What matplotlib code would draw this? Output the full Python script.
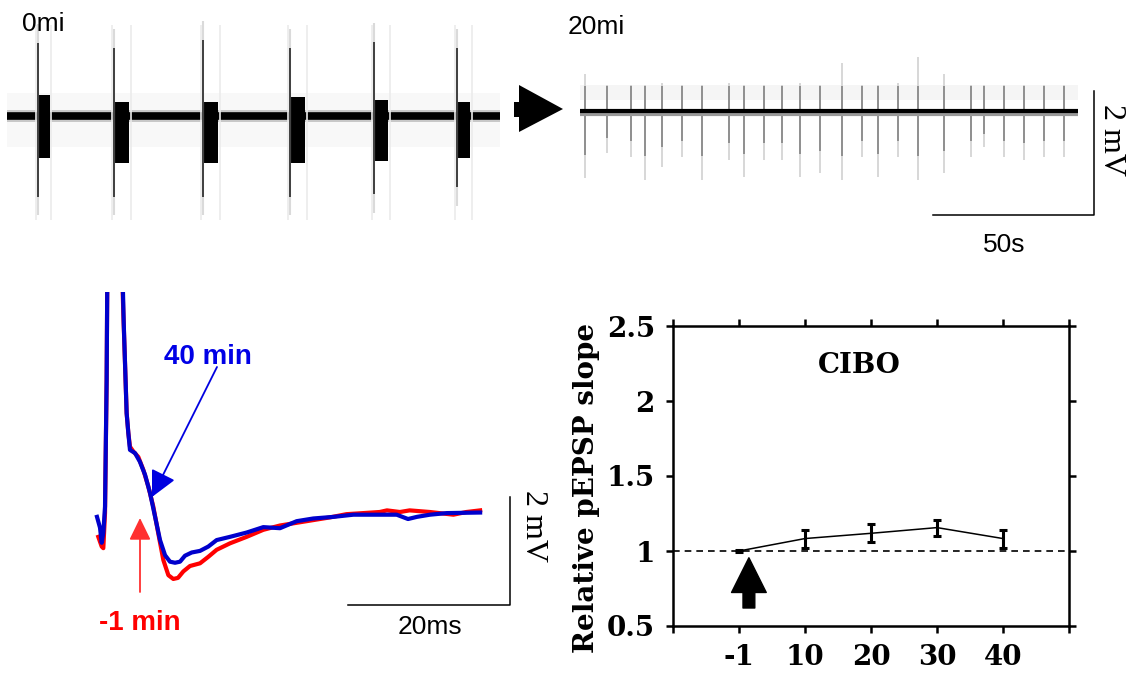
import matplotlib
matplotlib.use('Agg')
import matplotlib.pyplot as plt
from matplotlib.patches import Polygon

W, H = 1127, 675

# ===== DANE: gorny lewy slad (0 min), bursty [s, mV] =====
trace0_len = 153.0
burst_start = [9.6, 33.2, 60.9, 87.9, 114.0, 139.8]
burst_dur = [3.7, 4.7, 4.7, 4.7, 4.3, 4.0]
burst_top = [0.34, 0.23, 0.23, 0.31, 0.26, 0.23]
burst_bottom = [-0.68, -0.76, -0.76, -0.76, -0.73, -0.68]
burst_spike_up = [1.18, 1.10, 1.23, 1.10, 1.20, 1.10]
burst_spike_down = [-1.30, -1.30, -1.30, -1.30, -1.26, -1.15]

# ===== DANE: gorny prawy slad (20 min), pojedyncze spike'i [s, mV] =====
trace20_len = 154.7
spike_t = [1.6, 8.4, 15.8, 20.2, 25.5, 31.7, 37.9, 46.3, 50.9, 57.1, 62.7, 68.3, 74.5,
           81.4, 87.6, 92.5, 98.8, 105.0, 113.0, 121.4, 125.5, 131.7, 137.9, 144.1, 150.3]
spike_up = [0.60, 0.42, 0.42, 0.42, 0.45, 0.42, 0.42, 0.45, 0.42, 0.42, 0.42, 0.45, 0.42,
            0.77, 0.42, 0.42, 0.45, 0.87, 0.60, 0.42, 0.42, 0.42, 0.42, 0.42, 0.42]
spike_down = [-1.08, -0.68, -0.74, -1.11, -0.90, -0.74, -1.11, -0.79, -1.06, -0.79, -0.79, -1.06, -1.00,
              -1.11, -0.74, -1.06, -0.74, -1.11, -1.00, -0.74, -0.58, -0.74, -0.79, -0.74, -0.74]

# ===== DANE: fEPSP [ms, mV] =====
red_t = [0.16, 0.58, 0.78, 0.99, 1.19, 1.27, 1.5, 2.9, 3.13, 3.25, 3.46, 3.66, 3.87, 4.07, 4.49,
         5.1, 5.72, 6.34, 6.95, 7.57, 8.19, 8.81, 9.42, 10.0, 10.66, 11.48, 12.72, 13.74, 14.77,
         16.42, 18.48, 20.53, 22.59, 24.65, 26.7, 28.76, 30.8, 32.9, 34.9, 35.8, 37.4, 38.6,
         41.1, 44.0, 45.6, 47.3]
red_v = [-0.46, -0.64, -0.67, -0.02, 2.44, 4.3, 6.0, 6.0, 4.3, 3.68, 2.75, 1.83, 1.46, 1.21, 1.12,
         1.02, 0.78, 0.47, 0.10, -0.40, -0.89, -1.17, -1.24, -1.22, -1.10, -1.0, -0.95, -0.83, -0.70,
         -0.58, -0.46, -0.33, -0.25, -0.20, -0.15, -0.10, -0.04, -0.02, 0.0, 0.03, 0.0, 0.03,
         0.0, -0.05, 0.0, 0.03]
blue_t = [0.0, 0.37, 0.58, 0.78, 0.99, 1.19, 1.27, 1.5, 2.9, 3.17, 3.3, 3.46, 3.66, 3.87, 4.07,
          4.7, 5.3, 5.93, 6.55, 7.16, 7.78, 8.4, 9.01, 9.63, 10.25, 10.86, 11.69, 12.72, 13.74,
          14.77, 16.42, 18.48, 20.53, 22.59, 24.65, 26.7, 29.2, 31.65, 34.9, 37.0, 38.4, 39.5,
          41.1, 43.2, 47.3]
blue_v = [-0.09, -0.29, -0.57, -0.39, 0.10, 2.44, 4.3, 6.0, 6.0, 4.3, 3.5, 2.75, 1.83, 1.46, 1.15,
          1.09, 0.93, 0.69, 0.35, -0.08, -0.52, -0.80, -0.92, -0.94, -0.92, -0.81, -0.75, -0.72, -0.64,
          -0.52, -0.46, -0.38, -0.28, -0.30, -0.17, -0.12, -0.09, -0.05, -0.05, -0.05, -0.13, -0.09,
          -0.05, -0.02, -0.01]

# ===== DANE: wzgledne nachylenie pEPSP =====
time_labels = ['-1', '10', '20', '30', '40']
slope_mean = [1.0, 1.083, 1.118, 1.156, 1.083]
slope_err = [0.006, 0.06, 0.06, 0.054, 0.06]

RED = '#ff0000'
BLUE = '#0000cc'
SANS = 'Liberation Sans'
SERIF = 'DejaVu Serif'

fig = plt.figure(figsize=(W / 100, H / 100), dpi=100)


def px_axes(x0, y0, x1, y1):
    ax = fig.add_axes([x0 / W, 1 - y1 / H, (x1 - x0) / W, (y1 - y0) / H])
    ax.axis('off')
    return ax


def px_lims(ax, x0, x1, y0, y1, xorg, xscale, yorg, yscale):
    # przeliczenie pikseli na jednostki danych
    ax.set_xlim((x0 - xorg) / xscale, (x1 - xorg) / xscale)
    ax.set_ylim((yorg - y1) / yscale, (yorg - y0) / yscale)


# ===== GORNY LEWY =====
ax0 = px_axes(0, 0, 515, 235)
px_lims(ax0, 0, 515, 0, 235, 7, 3.22, 116, 62)
ax0.fill_between([0, trace0_len], -0.5, 0.37, color='#f8f8f8', lw=0)
ax0.fill_between([0, trace0_len], -0.1, 0.1, color='#c8c8c8', lw=0)
ax0.plot([0, trace0_len], [0, 0], color='black', lw=5.5, solid_capstyle='butt')
for s, d, top, bot, up, dn in zip(burst_start, burst_dur, burst_top, burst_bottom,
                                  burst_spike_up, burst_spike_down):
    ax0.vlines([s - 0.6, s + d + 0.5], -1.68, 1.47, color='#ebebeb', lw=1.2)
    ax0.vlines(s, dn - 0.3, up + 0.3, color='#dadada', lw=1.5)
    ax0.vlines(s, dn, up, color='#333333', lw=1.3)
    ax0.fill_between([s, s + d], bot, top, color='black', lw=0)

# ===== GORNY PRAWY =====
ax1 = px_axes(560, 0, 1127, 260)
px_lims(ax1, 560, 1127, 0, 260, 580, 3.22, 111, 62)
ax1.fill_between([0, trace20_len], 0.18, 0.42, color='#f5f5f5', lw=0)
ax1.vlines(spike_t, spike_down, spike_up, color='#d4d4d4', lw=1.3)
ax1.vlines(spike_t, [d * 0.65 for d in spike_down], 0.4, color='#8a8a8a', lw=1.3)
ax1.plot([0, trace20_len], [-0.05, -0.05], color='#999999', lw=3, solid_capstyle='butt')
ax1.plot([0, trace20_len], [0, 0], color='black', lw=3, solid_capstyle='butt')
# skala 50 s / 2 mV
sb_x = (1094 - 580) / 3.22
sb_y = (111 - 215) / 62
ax1.plot([sb_x - 50, sb_x, sb_x], [sb_y, sb_y, sb_y + 2], color='black', lw=1.1)

# ===== fEPSP =====
ax2 = px_axes(80, 292, 560, 650)
px_lims(ax2, 80, 560, 292, 650, 97, 8.1, 512, 54)
ax2.plot(red_t, red_v, color=RED, lw=3)
ax2.plot(blue_t, blue_v, color=BLUE, lw=3)
ep_x = (510 - 97) / 8.1
ep_y = (512 - 605) / 54
ax2.plot([ep_x - 20, ep_x, ep_x], [ep_y, ep_y, ep_y + 2], color='black', lw=1.1)

# ===== WYKRES NACHYLENIA =====
ax3 = fig.add_axes([673 / W, 1 - 626 / H, (1069 - 673) / W, (626 - 326) / H])
pos = list(range(len(time_labels)))
ax3.axhline(1.0, color='black', lw=1.2, ls=(0, (4, 3)))
ax3.errorbar(pos, slope_mean, yerr=slope_err, color='black', lw=1.1,
             elinewidth=2.2, capsize=3, capthick=2.2)
ax3.set_xlim(-1, 5)
ax3.set_ylim(0.5, 2.5)
ax3.set_xticks(range(-1, 6))
ax3.set_xticklabels([''] + time_labels + [''])
ax3.set_yticks([0.5, 1, 1.5, 2, 2.5])
ax3.set_yticklabels(['0.5', '1', '1.5', '2', '2.5'])
for sp in ax3.spines.values():
    sp.set_linewidth(1.8)
ax3.tick_params(direction='out', length=5, width=1.8, top=True, right=True, pad=8)
for lab in ax3.get_xticklabels() + ax3.get_yticklabels():
    lab.set_fontfamily(SERIF)
    lab.set_fontweight('bold')
    lab.set_fontsize(20)
ax3.text(0.47, 0.87, 'CIBO', transform=ax3.transAxes, ha='center', va='center',
         family=SERIF, fontweight='bold', fontsize=20)
ax3.annotate('', xy=(0.15, 0.955), xytext=(0.15, 0.62),
             arrowprops=dict(arrowstyle='simple,head_length=0.5,head_width=0.5,tail_width=0.17',
                             color='black', mutation_scale=50, shrinkA=0, shrinkB=0))

# ===== NAKLADKA: teksty i strzalki w pikselach =====
ov = fig.add_axes([0, 0, 1, 1], zorder=10)
ov.set_xlim(0, W)
ov.set_ylim(H, 0)
ov.axis('off')
ov.patch.set_alpha(0)

ov.text(22, 24, '0mi', family=SANS, fontsize=19, ha='left', va='center')
ov.text(568, 27, '20mi', family=SANS, fontsize=19, ha='left', va='center')
ov.text(1004, 245, '50s', family=SANS, fontsize=19, ha='center', va='center')
ov.text(430, 627, '20ms', family=SANS, fontsize=19, ha='center', va='center')
ov.text(1111, 140, '2 mV', family='Liberation Serif', fontsize=23, rotation=270,
        ha='center', va='center')
ov.text(534, 526, '2 mV', family='Liberation Serif', fontsize=23, rotation=270,
        ha='center', va='center')
ov.text(208, 357, '40 min', family=SANS, fontweight='bold', fontsize=20, color='#0000e6',
        ha='center', va='center')
ov.text(140, 623, '-1 min', family=SANS, fontweight='bold', fontsize=20, color=RED,
        ha='center', va='center')
ov.text(586, 488, 'Relative pEPSP slope', family=SERIF, fontweight='bold', fontsize=20,
        rotation=90, ha='center', va='center')

ov.annotate('', xy=(152, 497), xytext=(217, 367),
            arrowprops=dict(arrowstyle='-|>,head_length=0.5,head_width=0.25', color='#0000e0',
                            lw=1.3, mutation_scale=32, shrinkA=0, shrinkB=0))
ov.annotate('', xy=(140, 518), xytext=(140, 592),
            arrowprops=dict(arrowstyle='-|>,head_length=0.45,head_width=0.22', color='#ff3030',
                            lw=1.3, mutation_scale=30, shrinkA=0, shrinkB=0))
ov.add_patch(Polygon([(514, 102), (519, 102), (519, 85), (563, 109), (519, 132), (519, 117),
                      (514, 117)], closed=True, color='black', lw=0))

fig.savefig('out.png', dpi=100)
